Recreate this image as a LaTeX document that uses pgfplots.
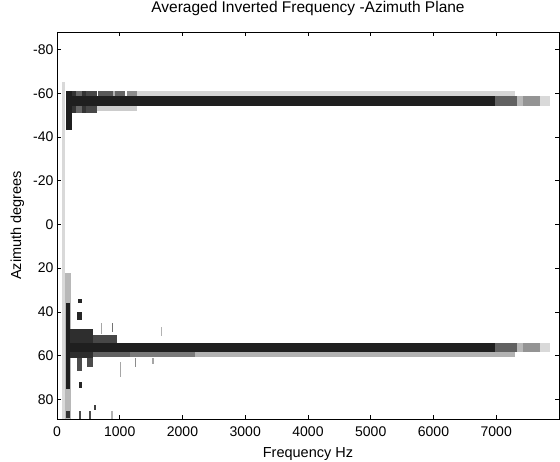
\documentclass[border=0pt]{standalone}
\usepackage{fontspec}
\setmainfont{Liberation Sans}
\usepackage{pgfplots}
\pgfplotsset{compat=1.18}

% one filled cell of the averaged map: x1 x2 (Hz), y1 y2 (deg), grey
\newcommand{\cell}[5]{\addplot[fill=#5, draw=none, forget plot] coordinates {(#1,#3) (#2,#3) (#2,#4) (#1,#4)} --cycle;}

\begin{document}
\begin{tikzpicture}
\begin{axis}[
  at={(0,0)}, anchor=south west,
  scale only axis, width=502pt, height=387pt,
  xmin=0, xmax=8000, ymin=-88, ymax=89, y dir=reverse,
  xtick={0,1000,...,7000}, ytick={-80,-60,...,80},
  tick pos=both, tick align=inside, major tick length=4pt,
  scaled x ticks=false,
  /pgf/number format/1000 sep={},
  /pgf/number format/assume math mode=true,
  tick label style={font=\fontsize{14}{16}\selectfont},
  xticklabel style={anchor=base, yshift=-18pt},
  label style={font=\fontsize{14.5}{16}\selectfont},
  title style={font=\fontsize{15.5}{17}\selectfont, at={(axis description cs:0.5,1.0336)}, anchor=base},
  xlabel style={at={(axis description cs:0.5,-0.0982)}, anchor=base},
  ylabel style={at={(axis description cs:-0.0717,0.5)}, anchor=base},
  axis line style={line width=0.8pt},
  every tick/.style={black, line width=0.6pt},
  title={Averaged Inverted Frequency -Azimuth Plane},
  xlabel={Frequency Hz}, ylabel={Azimuth degrees},
]
% faint column at the lowest bins
\cell{80}{135}{-65}{89}{black!15}
\cell{130}{220}{22}{89}{black!28}

% upper source (about -56 deg)
\cell{640}{1270}{-54.5}{-52}{black!20}
\cell{1270}{7300}{-61}{-58.5}{black!16}
\cell{140}{240}{-61}{-43}{black!88}
\cell{240}{300}{-61}{-51}{black!80}
\cell{300}{395}{-61}{-51}{black!60}
\cell{395}{460}{-61}{-51}{black!80}
\cell{460}{635}{-61}{-51}{black!72}
\cell{655}{895}{-61}{-58.5}{black!65}
\cell{895}{925}{-61}{-58.5}{black!30}
\cell{925}{1080}{-61}{-58.5}{black!60}
\cell{1110}{1270}{-61}{-58.5}{black!45}
\cell{140}{6980}{-58.8}{-54.3}{black!88}
\cell{6980}{7330}{-58.8}{-54.3}{black!62}
\cell{7330}{7420}{-58.8}{-54.3}{black!28}
\cell{7420}{7690}{-58.8}{-54.3}{black!42}
\cell{7690}{7850}{-58.8}{-54.3}{black!15}

% lower source (about 56 deg)
\cell{140}{215}{36}{75.5}{black!88}
\cell{140}{200}{85.5}{88.5}{black!80}
\cell{215}{575}{48}{61}{black!82}
\cell{320}{400}{61}{67}{black!70}
\cell{480}{575}{61}{65}{black!70}
\cell{575}{955}{50.5}{58.5}{black!72}
\cell{575}{1160}{58.2}{60.8}{black!62}
\cell{1160}{2200}{58.2}{60.8}{black!52}
\cell{2200}{7300}{58.2}{60.8}{black!30}
\cell{140}{6980}{54.2}{58.2}{black!88}
\cell{6980}{7330}{54.2}{58.2}{black!62}
\cell{7330}{7420}{54.2}{58.2}{black!28}
\cell{7420}{7690}{54.2}{58.2}{black!42}
\cell{7690}{7850}{54.2}{58.2}{black!15}

% isolated bins at low frequency
\cell{340}{395}{34}{36}{black!85}
\cell{320}{400}{40}{43.6}{black!85}
\cell{355}{395}{72}{75}{black!85}
\cell{590}{620}{82.5}{85}{black!75}
\cell{350}{380}{85.5}{89}{black!70}
\cell{515}{545}{85.5}{89}{black!70}
\cell{870}{900}{45}{49}{black!55}
\cell{860}{890}{85.5}{89}{black!30}
\cell{700}{720}{45}{50}{black!35}
\cell{1000}{1020}{63}{70}{black!35}
\cell{1240}{1260}{61}{65}{black!45}
\cell{1520}{1540}{61}{64}{black!35}
\cell{1660}{1680}{47}{51}{black!30}
\end{axis}
\pgfresetboundingbox
\path (-57pt,-43pt) rectangle (503pt,419pt);
\end{tikzpicture}
\end{document}
